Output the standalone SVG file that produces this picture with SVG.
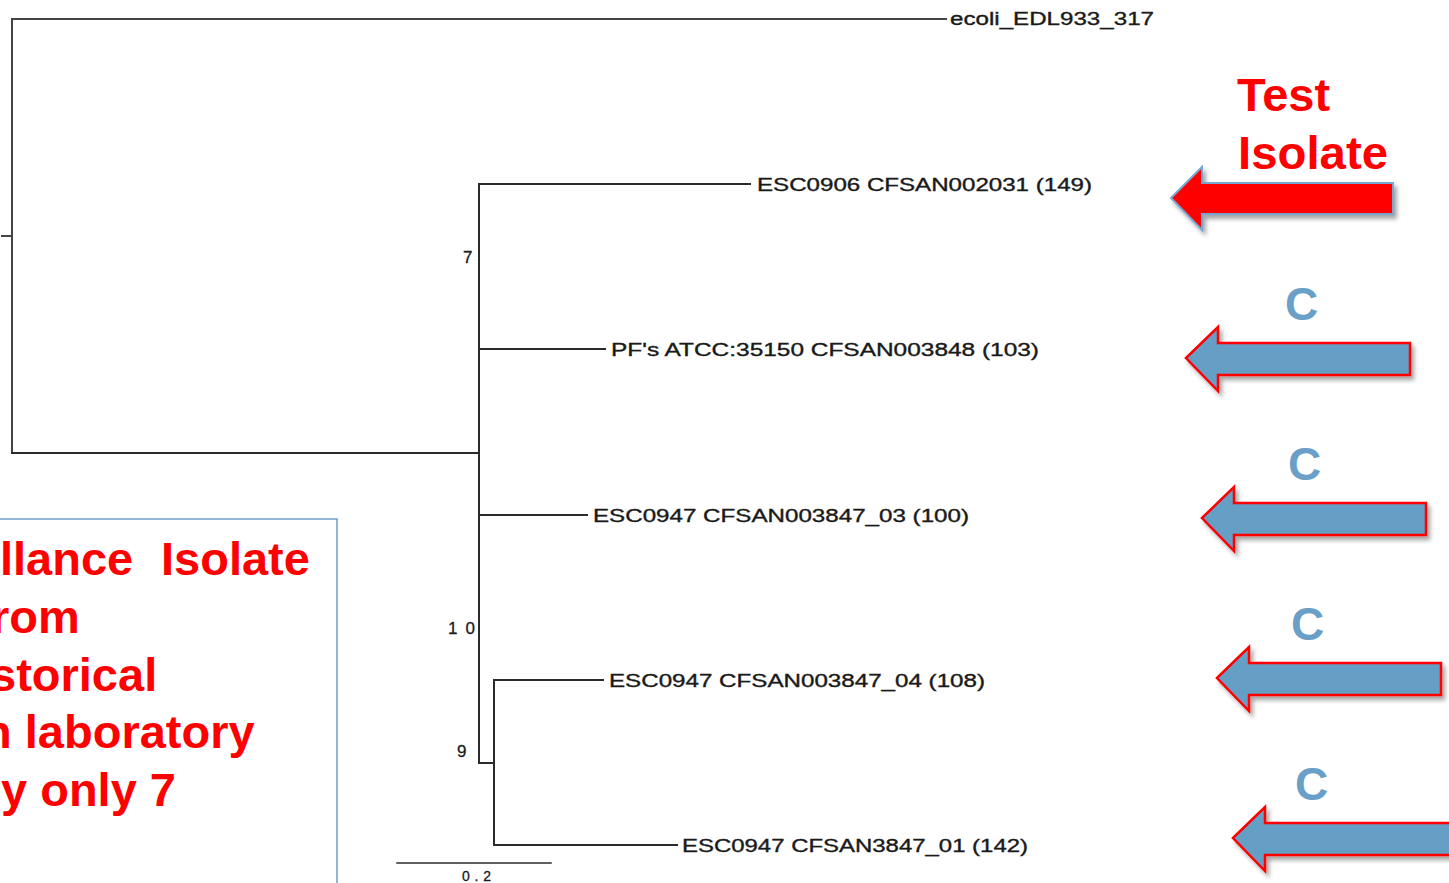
<svg xmlns="http://www.w3.org/2000/svg" width="1449" height="883" viewBox="0 0 1449 883">
<style>
.br{stroke:#2b2b2b;stroke-width:2;fill:none;stroke-linecap:square}
.lbl{font-family:"Liberation Sans",Arial,sans-serif;font-size:17.5px;fill:#1a1a1a;stroke:#1a1a1a;stroke-width:0.35}
.bs{font-family:"Liberation Sans",Arial,sans-serif;font-size:17px;fill:#1a1a1a;stroke:#1a1a1a;stroke-width:0.3}
.red{font-family:"Liberation Sans",Arial,sans-serif;font-size:47px;font-weight:bold;fill:#ff0000}
.cc{font-family:"Liberation Sans",Arial,sans-serif;font-size:46px;font-weight:bold;fill:#6a9fc7}
.barrow{fill:#659fc6;stroke:#ff0000;stroke-width:2.5;stroke-linejoin:miter}
</style>
<defs>
<filter id="sh" x="-10%" y="-20%" width="130%" height="160%">
<feDropShadow dx="3" dy="4" stdDeviation="2" flood-color="#000" flood-opacity="0.35"/>
</filter>
<path id="ba" d="M0,0 L32,-31 L32,-15 L224,-15 L224,17 L32,17 L32,33 Z"/>
</defs>
<rect width="1449" height="883" fill="#ffffff"/>

<g id="connectors">
<path class="br" d="M2,236 H12" style="stroke:#444"/>
<path class="br" d="M12,19 V453" style="stroke:#444"/>
<path class="br" d="M12,19 H946" style="stroke:#444"/>
<path class="br" d="M12,453 H479"/>
<path class="br" d="M479,184 V763"/>
<path class="br" d="M479,184 H750"/>
<path class="br" d="M479,349 H605"/>
<path class="br" d="M479,515 H587"/>
<path class="br" d="M479,763 H494"/>
<path class="br" d="M494,680 V845"/>
<path class="br" d="M494,680 H603"/>
<path class="br" d="M494,845 H677"/>
<path class="br" d="M397,863 H551" style="stroke-width:1.5"/>
</g>

<g id="leaf-ecoli"><text class="lbl" x="950" y="25" textLength="204" lengthAdjust="spacingAndGlyphs">ecoli_EDL933_317</text></g>
<g id="leaf-esc0906"><text class="lbl" x="757" y="191" textLength="335" lengthAdjust="spacingAndGlyphs">ESC0906 CFSAN002031 (149)</text></g>
<g id="leaf-pf"><text class="lbl" x="611" y="356" textLength="428" lengthAdjust="spacingAndGlyphs">PF's ATCC:35150 CFSAN003848 (103)</text></g>
<g id="leaf-esc0947-03"><text class="lbl" x="593" y="522" textLength="376" lengthAdjust="spacingAndGlyphs">ESC0947 CFSAN003847_03 (100)</text></g>
<g id="leaf-esc0947-04"><text class="lbl" x="609" y="687" textLength="376" lengthAdjust="spacingAndGlyphs">ESC0947 CFSAN003847_04 (108)</text></g>
<g id="leaf-esc0947-01"><text class="lbl" x="682" y="852" textLength="346" lengthAdjust="spacingAndGlyphs">ESC0947 CFSAN3847_01 (142)</text></g>

<g id="bootstrap">
<text class="bs" x="463" y="263">7</text>
<text class="bs" x="448" y="634" textLength="27" lengthAdjust="spacing">10</text>
<text class="bs" x="457" y="757">9</text>
</g>
<g id="scale"><text class="bs" x="462" y="881" style="font-size:14px" textLength="29" lengthAdjust="spacing">0.2</text></g>

<g id="test-isolate">
<text class="red" x="1237" y="111">Test</text>
<text class="red" x="1238" y="169" textLength="150" lengthAdjust="spacingAndGlyphs">Isolate</text>
<path d="M1171,198 L1202,167 L1202,183 L1393,183 L1393,214 L1202,214 L1202,230 Z" fill="#ff0000" stroke="#78a6d2" stroke-width="2" filter="url(#sh)"/>
</g>

<g id="control-1">
<text class="cc" x="1285" y="320">C</text>
<use href="#ba" class="barrow" transform="translate(1186,358)" filter="url(#sh)"/>
</g>
<g id="control-2">
<text class="cc" x="1288" y="480">C</text>
<use href="#ba" class="barrow" transform="translate(1202,518)" filter="url(#sh)"/>
</g>
<g id="control-3">
<text class="cc" x="1291" y="640">C</text>
<use href="#ba" class="barrow" transform="translate(1217,678)" filter="url(#sh)"/>
</g>
<g id="control-4">
<text class="cc" x="1295" y="800">C</text>
<use href="#ba" class="barrow" transform="translate(1233,838)" filter="url(#sh)"/>
</g>

<g id="note-box">
<rect x="-2" y="519" width="339" height="400" fill="#ffffff" stroke="#6d9fcc" stroke-width="1.5"/>
<text class="red" x="0" y="575">llance<tspan x="161">Isolate</tspan></text>
<text class="red" x="-9" y="633">rom</text>
<text class="red" x="-10" y="691">storical</text>
<text class="red" x="-17" y="748">n laboratory</text>
<text class="red" x="1" y="806">y only 7</text>
</g>
</svg>
